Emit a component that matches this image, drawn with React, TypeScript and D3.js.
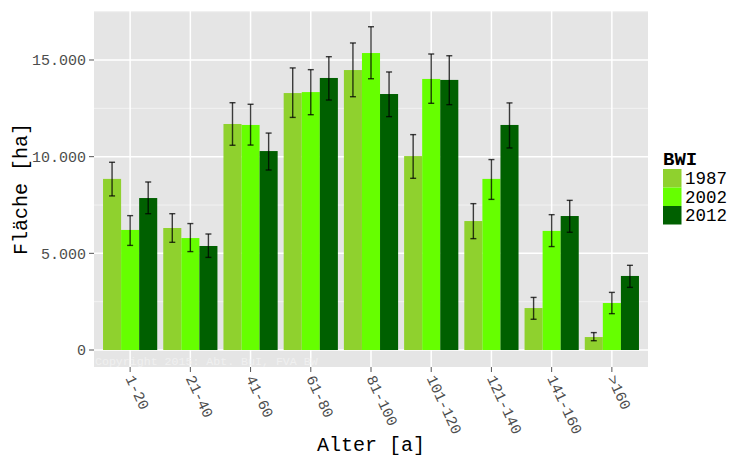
import React from "react";
import * as d3 from "d3";

const categories = ["1-20", "21-40", "41-60", "61-80", "81-100", "101-120", "121-140", "141-160", ">160"];
const series = ["1987", "2002", "2012"];
const colors = ["#8fd12e", "#66ff00", "#006000"];

const values1987 = [8850, 6310, 11690, 13290, 14480, 10030, 6670, 2170, 670];
const lower1987 = [7970, 5570, 10590, 12030, 13100, 8880, 5760, 1590, 480];
const upper1987 = [9710, 7050, 12790, 14590, 15880, 11140, 7570, 2720, 900];

const values2002 = [6210, 5790, 11640, 13340, 15360, 14020, 8850, 6160, 2430];
const lower2002 = [5410, 5090, 10600, 12170, 14030, 12760, 7790, 5350, 1880];
const upper2002 = [6950, 6540, 12710, 14500, 16720, 15310, 9850, 7000, 2980];

const values2012 = [7860, 5380, 10290, 14070, 13240, 13970, 11640, 6930, 3830];
const lower2012 = [7050, 4790, 9310, 12930, 12070, 12690, 10450, 6090, 3240];
const upper2012 = [8690, 6000, 11220, 15170, 14380, 15220, 12780, 7740, 4380];

const yTicks = [0, 5000, 10000, 15000];
const yMinor = [2500, 7500, 12500, 17500];

const allValues = [values1987, values2002, values2012];
const allLower = [lower1987, lower2002, lower2012];
const allUpper = [upper1987, upper2002, upper2012];

const W = 734, H = 459;
const panel = { left: 94, right: 648, top: 11, bottom: 367 };
const mono = "'Liberation Mono', 'DejaVu Sans Mono', monospace";

const fmt = (v: number) => (v === 0 ? "0" : d3.format(",")(v).replace(/,/g, "."));

export default function App() {
  const x = d3.scaleLinear().domain([0.4, categories.length + 0.6]).range([panel.left, panel.right]);
  const y = d3.scaleLinear().domain([-879, 17534]).range([panel.bottom, panel.top]);
  const bw = 0.3;
  const barX = (i: number, s: number) => x(i + 1 - 0.45 + s * bw);
  const barW = x(bw) - x(0);
  const cap = 3;
  const keySize = 18.5;

  return (
    <svg width={W} height={H} style={{ position: "absolute", left: 0, top: 0, background: "#fff" }}>
      <rect x={panel.left} y={panel.top} width={panel.right - panel.left} height={panel.bottom - panel.top} fill="#e5e5e5" />
      {yMinor.map((t) => (
        <line key={"m" + t} x1={panel.left} x2={panel.right} y1={y(t)} y2={y(t)} stroke="#f2f2f2" strokeWidth={1} />
      ))}
      {yTicks.map((t) => (
        <line key={"g" + t} x1={panel.left} x2={panel.right} y1={y(t)} y2={y(t)} stroke="#fff" strokeWidth={1.5} />
      ))}
      {categories.map((c, i) => (
        <line key={"v" + c} x1={x(i + 1)} x2={x(i + 1)} y1={panel.top} y2={panel.bottom} stroke="#fff" strokeWidth={1.5} />
      ))}
      {categories.map((c, i) =>
        series.map((s, k) => {
          const v = allValues[k][i];
          return (
            <rect key={c + s} x={barX(i, k)} y={y(v)} width={barW} height={y(0) - y(v)} fill={colors[k]} />
          );
        })
      )}
      {categories.map((c, i) =>
        series.map((s, k) => {
          const cx = barX(i, k) + barW / 2;
          const lo = y(allLower[k][i]);
          const hi = y(allUpper[k][i]);
          return (
            <g key={"e" + c + s} stroke="#000" strokeOpacity={0.75} strokeWidth={1.4}>
              <line x1={cx} x2={cx} y1={lo} y2={hi} />
              <line x1={cx - cap} x2={cx + cap} y1={lo} y2={lo} />
              <line x1={cx - cap} x2={cx + cap} y1={hi} y2={hi} />
            </g>
          );
        })
      )}
      <text x={panel.left + 1} y={365} fontFamily={mono} fontSize={11.6} fill="#f0f0f0">
        Copyright 2015: Abt. BuI, FVA BW
      </text>
      {yTicks.map((t) => (
        <g key={"yt" + t}>
          <line x1={panel.left - 5} x2={panel.left} y1={y(t)} y2={y(t)} stroke="#555" strokeWidth={1} />
          <text x={panel.left - 8} y={y(t)} dy="0.35em" textAnchor="end" fontFamily={mono} fontSize={15} fill="#4d4d4d">
            {fmt(t)}
          </text>
        </g>
      ))}
      {categories.map((c, i) => (
        <g key={"xt" + c}>
          <line x1={x(i + 1)} x2={x(i + 1)} y1={panel.bottom} y2={panel.bottom + 5} stroke="#555" strokeWidth={1} />
          <text
            transform={`translate(${x(i + 1)},${panel.bottom + 9}) rotate(65)`}
            dy="0.35em"
            textAnchor="start"
            fontFamily={mono}
            fontSize={15}
            fill="#4d4d4d"
          >
            {c}
          </text>
        </g>
      ))}
      <text x={(panel.left + panel.right) / 2} y={451} textAnchor="middle" fontFamily={mono} fontSize={20} fill="#000">
        Alter [a]
      </text>
      <text
        transform={`translate(27,${(panel.top + panel.bottom) / 2}) rotate(-90)`}
        textAnchor="middle"
        fontFamily={mono}
        fontSize={20}
        fill="#000"
      >
        Fläche [ha]
      </text>
      <text x={663} y={165} fontFamily={mono} fontSize={19} fontWeight="bold" fill="#000">
        BWI
      </text>
      {series.map((s, k) => (
        <g key={"lg" + s}>
          <rect x={663} y={169 + k * keySize} width={keySize} height={keySize} fill={colors[k]} />
          <text x={685} y={169 + k * keySize + keySize / 2} dy="0.35em" fontFamily={mono} fontSize={17.5} fill="#000">
            {s}
          </text>
        </g>
      ))}
    </svg>
  );
}
